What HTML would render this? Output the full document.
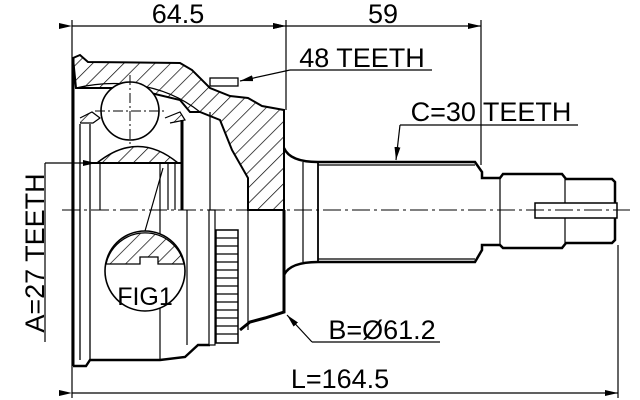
<!DOCTYPE html>
<html><head><meta charset="utf-8"><style>
html,body{margin:0;padding:0;background:#fff}
svg{display:block}
text{font-family:"Liberation Sans",sans-serif;fill:#000}
</style></head><body>
<svg width="640" height="400" viewBox="0 0 640 400" xmlns="http://www.w3.org/2000/svg">
<defs>
<pattern id="h" patternUnits="userSpaceOnUse" width="11" height="11" patternTransform="rotate(45)">
<line x1="0" y1="0" x2="0" y2="11" stroke="#000" stroke-width="1.4"/>
</pattern>
<marker id="a" markerWidth="13" markerHeight="6" refX="13" refY="3" orient="auto" markerUnits="userSpaceOnUse">
<path d="M0,0 L13,3 L0,6 z" fill="#000"/>
</marker>
</defs>
<g fill="none" stroke="#000">
<line x1="72" y1="20" x2="72" y2="398" stroke-width="1.2"/>
<line x1="286" y1="20" x2="286" y2="110" stroke-width="1.2"/>
<line x1="481" y1="20" x2="481" y2="165" stroke-width="1.2"/>
<line x1="618" y1="245" x2="618" y2="398" stroke-width="1.2"/>
<line x1="72" y1="26" x2="286" y2="26" marker-start="url(#a)" marker-end="url(#a)" stroke-width="1.2"/>
<line x1="286" y1="26" x2="481" y2="26" marker-start="url(#a)" marker-end="url(#a)" stroke-width="1.2"/>
<line x1="72" y1="393" x2="618" y2="393" marker-start="url(#a)" marker-end="url(#a)" stroke-width="1.2"/>

<path d="M73,58 L80,55 L88,62 L180,63 L192,70 L210,88 L230,96 L248,98 L262,106 L284,110 L284,210 L248,210 L248,178 L232,150 L220,120 L200,112 L190,112 L180,100 L130,88 L76,88 Z" fill="url(#h)" stroke-width="2"/>
<path d="M76,88 C110,80 160,80 200,112" stroke-width="1.2"/>
<circle cx="130" cy="111" r="29" fill="#fff" stroke-width="1.6"/>
<line x1="130" y1="75" x2="130" y2="146" stroke-dasharray="10,3,2,3" stroke-width="1"/>
<line x1="95" y1="111" x2="165" y2="111" stroke-dasharray="10,3,2,3" stroke-width="1"/>
<path d="M97,163 Q138,130 178,163 Z" fill="url(#h)" stroke-width="1.5"/>
<line x1="92" y1="163" x2="182" y2="163" stroke-width="2"/>
<path d="M80,118 L92,112 L100,118 L93,123 L80,123" fill="url(#h)" stroke-width="1.2"/>
<path d="M165,118 L180,112 L185,120 L170,123" fill="url(#h)" stroke-width="1.2"/>
<line x1="80" y1="124" x2="80" y2="360" stroke-width="1.3"/>
<line x1="90" y1="124" x2="90" y2="360" stroke-width="1.3"/>
<line x1="100" y1="163" x2="100" y2="210" stroke-width="1.2"/>
<line x1="160" y1="163" x2="160" y2="360" stroke-width="1.2"/>
<line x1="168" y1="163" x2="168" y2="210" stroke-width="1.2"/>
<line x1="175" y1="163" x2="175" y2="210" stroke-width="1.2"/>
<line x1="182" y1="120" x2="182" y2="210" stroke-width="3"/>
<line x1="210" y1="112" x2="210" y2="345" stroke-width="1.2"/>
<line x1="187" y1="210" x2="187" y2="345" stroke-width="1.2"/>
<line x1="248" y1="210" x2="248" y2="330" stroke-width="1.2"/>
<line x1="73" y1="58" x2="73" y2="366" stroke-width="3"/>
<path d="M73,366 L86,366 L90,360 L160,360 L185,357 L198,345 L210,345" stroke-width="2.4"/>
<path d="M240,330 L250,322 L265,318 L284,312 L284,210" stroke-width="3"/>
<rect x="216" y="230" width="22" height="113" fill="#fff" stroke-width="1.5"/>
<g stroke-width="1.2">
<line x1="216" y1="238" x2="238" y2="238"/><line x1="216" y1="246" x2="238" y2="246"/>
<line x1="216" y1="254" x2="238" y2="254"/><line x1="216" y1="262" x2="238" y2="262"/>
<line x1="216" y1="270" x2="238" y2="270"/><line x1="216" y1="278" x2="238" y2="278"/>
<line x1="216" y1="286" x2="238" y2="286"/><line x1="216" y1="294" x2="238" y2="294"/>
<line x1="216" y1="302" x2="238" y2="302"/><line x1="216" y1="310" x2="238" y2="310"/>
<line x1="216" y1="318" x2="238" y2="318"/><line x1="216" y1="326" x2="238" y2="326"/>
<line x1="216" y1="334" x2="238" y2="334"/>
</g>
<rect x="209" y="210" width="6" height="135" fill="#fff" stroke-width="1.2"/>
<path d="M284,148 Q290,162 318,162 L475,162 L482,172 L482,178 L500,178 L503,174 L562,174 L566,179 L612,179 L615,182 L615,240 L612,243 L566,243 L562,248 L503,248 L500,245 L482,245 L482,250 L475,262 L318,262 Q290,262 284,275" stroke-width="2.5"/>
<line x1="303" y1="162" x2="303" y2="262" stroke-width="1.2"/>
<line x1="318" y1="162" x2="318" y2="262" stroke-width="1.8"/>
<line x1="318" y1="165" x2="475" y2="165" stroke-width="1.2"/>
<line x1="318" y1="259" x2="475" y2="259" stroke-width="1.2"/>
<line x1="500" y1="178" x2="500" y2="245" stroke-width="1.2"/>
<line x1="565" y1="179" x2="565" y2="243" stroke-width="1.2"/>
<rect x="535" y="203" width="82" height="15" fill="#fff" stroke-width="1.5"/>
<line x1="62" y1="210" x2="630" y2="210" stroke-dasharray="18,4,3,4" stroke-width="1"/>
<circle cx="145" cy="271" r="40" fill="#fff" stroke-width="1.6"/>
<path d="M106,264 A40,40 0 0,1 184,264 L158,264 L158,257 L140,257 L140,264 Z" fill="url(#h)" stroke-width="1.3"/>
<line x1="145" y1="231" x2="163" y2="168" stroke-width="1.2"/>
<rect x="210" y="78" width="28" height="8" fill="#fff" stroke-width="1.3"/>
<line x1="290" y1="70" x2="432" y2="70" stroke-width="1.2"/>
<line x1="290" y1="70" x2="240" y2="81" marker-end="url(#a)" stroke-width="1.2"/>
<line x1="400" y1="125" x2="578" y2="125" stroke-width="1.2"/>
<line x1="400" y1="125" x2="396" y2="160" marker-end="url(#a)" stroke-width="1.2"/>
<line x1="312" y1="342" x2="440" y2="342" stroke-width="1.2"/>
<line x1="312" y1="342" x2="287" y2="315" marker-end="url(#a)" stroke-width="1.2"/>
<line x1="45" y1="163" x2="45" y2="342" stroke-width="1.2"/>
<line x1="45" y1="163" x2="96" y2="163" marker-end="url(#a)" stroke-width="1.2"/>
</g>
<text x="178" y="23" font-size="27" text-anchor="middle">64.5</text>
<text x="383" y="23" font-size="27" text-anchor="middle">59</text>
<text x="362" y="67" font-size="27" text-anchor="middle">48 TEETH</text>
<text x="491" y="121" font-size="27" text-anchor="middle">C=30 TEETH</text>
<text x="382" y="339" font-size="27" text-anchor="middle">B=Ø61.2</text>
<text x="340" y="388" font-size="27" text-anchor="middle">L=164.5</text>
<text x="145" y="305" font-size="25" text-anchor="middle">FIG1</text>
<text transform="translate(44,253) rotate(-90)" font-size="27" text-anchor="middle">A=27 TEETH</text>
</svg>
</body></html>
